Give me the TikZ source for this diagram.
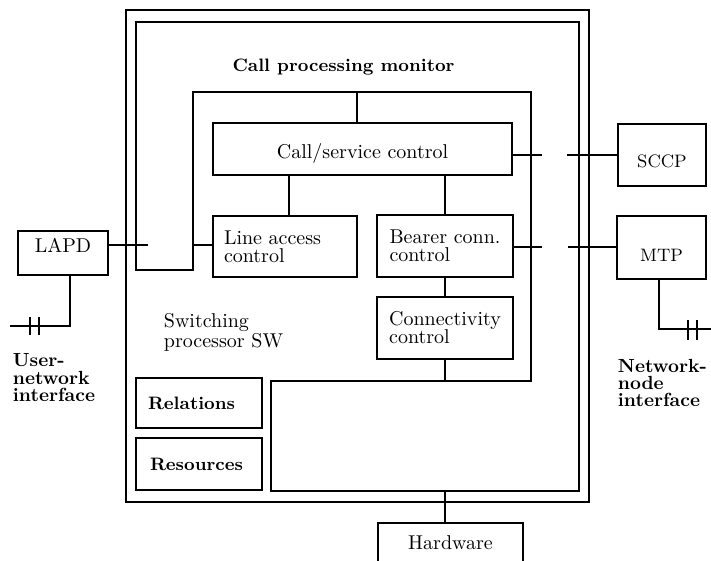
\documentclass[tikz,border=0pt]{standalone}
\usetikzlibrary{calc}
\begin{document}
\begin{tikzpicture}[x=0.5pt,y=-0.5pt,line width=0.9pt,
  box/.style={draw,line width=0.9pt,inner sep=0pt,font=\fontsize{10}{9}\selectfont},
  lbl/.style={inner sep=0pt,align=left,anchor=north west,font=\fontsize{10}{9}\selectfont},
  blbl/.style={inner sep=0pt,align=left,anchor=north west,font=\bfseries\fontsize{9.5}{8.6}\selectfont}]
\useasboundingbox (0,0) rectangle (711,561);
% switching processor frame
\node[box,minimum width=231.5pt,minimum height=246pt] (sw) at (357.5,256) {};
% call processing monitor region
\coordinate (m1) at (136,22);
\coordinate (m2) at (579,22);
\coordinate (m3) at (579,491);
\coordinate (m4) at (271,491);
\coordinate (m5) at (271,381);
\coordinate (m6) at (531,381);
\coordinate (m7) at (531,92);
\coordinate (m8) at (193,92);
\coordinate (m9) at (193,270);
\coordinate (m10) at (136,270);
\draw (m1) -- (m2) -- (m3) -- (m4) -- (m5) -- (m6) -- (m7) -- (m8) -- (m9) -- (m10) -- cycle;
\node[inner sep=0pt,anchor=base,font=\bfseries\fontsize{9}{9}\selectfont] (cpm) at (343.5,72) {Call processing monitor};
% boxes
\node[box,minimum width=45pt,minimum height=22pt,text depth=8pt] (lapd) at (63,253) {LAPD};
\node[box,minimum width=44pt,minimum height=31pt,text height=12.2pt,text depth=0pt,font=\fontsize{9}{9}\selectfont] (sccp) at (662,155) {SCCP};
\node[box,minimum width=44.5pt,minimum height=31.5pt,text height=13.6pt,text depth=0pt,font=\fontsize{9}{9}\selectfont] (mtp) at (661.5,247.5) {MTP};
\node[box,minimum width=149.5pt,minimum height=26pt,text height=9.8pt,text depth=0pt] (css) at (362.5,149) {Call/service control};
\node[box,minimum width=72pt,minimum height=30.5pt,inner xsep=5.5pt,text width=61pt,align=left] (la) at (285,246.5) {Line access\\control};
\node[box,minimum width=68pt,minimum height=31pt,align=left] (bc) at (445,246) {Bearer conn.\\control};
\node[box,minimum width=68pt,minimum height=31pt,align=left] (cc) at (445,328) {Connectivity\\control};
\node[box,minimum width=63pt,minimum height=25pt,inner xsep=6pt,text width=51pt,align=left,font=\bfseries\fontsize{9}{9}\selectfont] (rel) at (199,403) {Relations};
\node[box,minimum width=63pt,minimum height=26pt,inner xsep=7pt,text width=49pt,align=left,font=\bfseries\fontsize{9}{9}\selectfont] (res) at (199,464) {Resources};
\node[box,minimum width=72.5pt,minimum height=26pt,text depth=6pt] (hw) at (450.5,549) {Hardware};
% free labels
\node[lbl] (swl) at (163,312) {Switching\\processor SW};
\node[blbl] (uni) at (12,353) {User-\\network\\interface};
\node[blbl] (nni) at (617,358) {Network-\\node\\interface};
% connectors inside
\coordinate (c1) at (357,92);
\draw (c1) -- (c1 |- css.north);
\coordinate (c2) at (289,0);
\draw (c2 |- css.south) -- (c2 |- la.north);
\draw (bc.north |- css.south) -- (bc.north);
\draw (bc.south) -- (cc.north);
\draw (cc.south) -- (cc.south |- m6);
\coordinate (c3) at (445,0);
\draw (c3 |- m3) -- (c3 |- hw.north);
% left side: LAPD
\coordinate (c4) at (148,245);
\draw (lapd.east |- c4) -- (c4);
\draw (la.west |- c4) -- (m8 |- c4);
\coordinate (c5) at (70,326);
\coordinate (ue) at (10,326);
\draw (c5 |- lapd.south) -- (c5) -- (ue);
\draw (30,317) -- (30,335);
\draw (39,317) -- (39,335);
% right side: SCCP
\coordinate (c6) at (567,155);
\coordinate (c7) at (542,155);
\draw (sccp.west) -- (c6);
\draw (css.east |- c7) -- (c7);
% right side: MTP
\coordinate (c8) at (568,247);
\coordinate (c9) at (542,247);
\draw (mtp.west |- c8) -- (c8);
\draw (bc.east |- c9) -- (c9);
\coordinate (c10) at (659,329);
\coordinate (ne) at (711,329);
\draw (c10 |- mtp.south) -- (c10) -- (ne);
\draw (688,320) -- (688,340);
\draw (697,320) -- (697,340);
\end{tikzpicture}
\end{document}
